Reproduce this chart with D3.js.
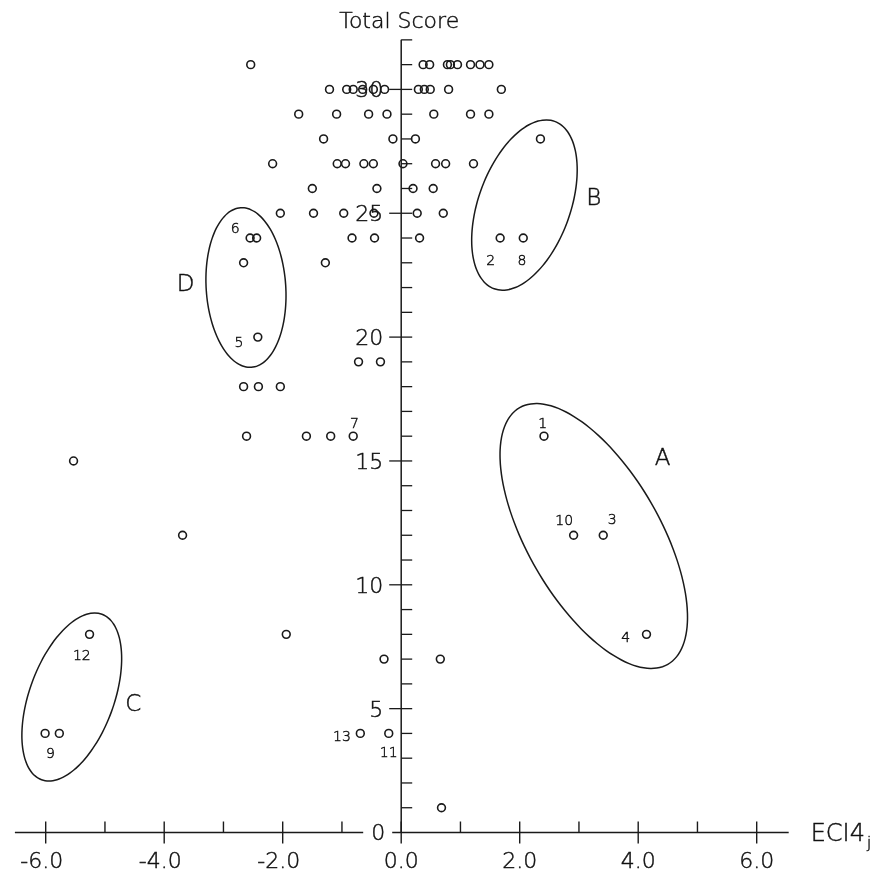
<!DOCTYPE html>
<html>
<head>
<meta charset="utf-8">
<script src="https://cdn.jsdelivr.net/npm/d3@7"></script>
<style>
  body { margin: 0; background: #fff; }
  svg { will-change: transform; opacity: 0.999; }
  text { font-family: "DejaVu Sans", sans-serif; fill: #111; stroke: #111; stroke-width: 0.45px; }
</style>
</head>
<body>
<div id="chart"></div>
<script>
// ECI4j (x) and total score (y) for each case
var eci = [
  -2.54, 0.37, 0.48, 0.78, 0.83, 0.95, 1.17, 1.33, 1.48,
  -1.21, -0.92, -0.81, -0.65, -0.47, -0.28, 0.29, 0.39, 0.49, 0.80, 1.69,
  -1.73, -1.09, -0.55, -0.24, 0.55, 1.17, 1.48,
  -1.31, -0.14, 0.24, 2.35,
  -2.17, -1.08, -0.94, -0.63, -0.47, 0.03, 0.58, 0.75, 1.22,
  -1.50, -0.41, 0.20, 0.54,
  -2.04, -1.48, -0.97, -0.46, 0.27, 0.71,
  -2.55, -2.44, -0.83, -0.45, 0.31, 1.67, 2.06,
  -2.66, -1.28,
  -2.42,
  -0.72, -0.35,
  -2.66, -2.41, -2.04,
  -2.61, -1.60, -1.19, -0.81, 2.41,
  -5.53,
  -3.69, 2.91, 3.41,
  -5.26, -1.94, 4.14,
  -0.29, 0.66,
  -6.01, -5.77, -0.69, -0.21,
  0.68
];
var totalScore = [
  31, 31, 31, 31, 31, 31, 31, 31, 31,
  30, 30, 30, 30, 30, 30, 30, 30, 30, 30, 30,
  29, 29, 29, 29, 29, 29, 29,
  28, 28, 28, 28,
  27, 27, 27, 27, 27, 27, 27, 27, 27,
  26, 26, 26, 26,
  25, 25, 25, 25, 25, 25,
  24, 24, 24, 24, 24, 24, 24,
  23, 23,
  20,
  19, 19,
  18, 18, 18,
  16, 16, 16, 16, 16,
  15,
  12, 12, 12,
  8, 8, 8,
  7, 7,
  4, 4, 4, 4,
  1
];

// numbered cases
var caseText = ["1", "2", "3", "4", "5", "6", "7", "8", "9", "10", "11", "12", "13"];
var caseX = [2.39, 1.51, 3.56, 3.79, -2.74, -2.80, -0.79, 2.04, -5.92, 2.75, -0.21, -5.39, -1.00];
var caseY = [16.52, 23.11, 12.64, 7.90, 19.81, 24.39, 16.52, 23.11, 3.20, 12.62, 3.26, 7.17, 3.90];

// clusters: centre, half major axis, half minor axis (data units)
var clusterName = ["A", "B", "C", "D"];
var clusterCx = [3.25, 2.08, -5.56, -2.62];
var clusterCy = [11.97, 25.33, 5.47, 22.0];
var clusterMajor = [[1.25, -5.18], [0.51, 3.38], [0.51, 3.34], [-0.09, 3.22]];
var clusterMinor = [[-0.97, -1.33], [0.73, -0.63], [0.67, -0.59], [0.67, 0.11]];
var clusterLabelX = [4.41, 3.25, -4.52, -3.64];
var clusterLabelY = [15.17, 25.67, 5.22, 22.2];

// axes
var xMinor = [-5, -3, -1, 1, 3, 5];
var xMajor = [-6, -4, -2, 0, 2, 4, 6];
var xLabels = ["-6.0", "-4.0", "-2.0", "0.0", "2.0", "4.0", "6.0"];
var yTicks = [1, 2, 3, 4, 5, 6, 7, 8, 9, 10, 11, 12, 13, 14, 15, 16, 17, 18, 19, 20,
              21, 22, 23, 24, 25, 26, 27, 28, 29, 30, 31, 32];
var yMajor = [5, 10, 15, 20, 25, 30];
var yLabels = ["5", "10", "15", "20", "25", "30"];

var width = 885, height = 874;
var ink = "#1a1a1a";

var svg = d3.select("#chart").append("svg")
  .attr("width", width)
  .attr("height", height)
  .style("background", "#fff");

var x = d3.scaleLinear().domain([-6, 6]).range([45.7, 756.7]);
var y = d3.scaleLinear().domain([0, 30]).range([832.5, 89.4]);

// clusters
var t = d3.range(0, 72).map(function (i) { return i / 72 * 2 * Math.PI; });
var ellipse = d3.line().curve(d3.curveCardinalClosed);
clusterName.forEach(function (name, k) {
  var pts = t.map(function (a) {
    return [
      x(clusterCx[k] + clusterMajor[k][0] * Math.cos(a) + clusterMinor[k][0] * Math.sin(a)),
      y(clusterCy[k] + clusterMajor[k][1] * Math.cos(a) + clusterMinor[k][1] * Math.sin(a))
    ];
  });
  svg.append("path")
    .attr("d", ellipse(pts))
    .attr("fill", "none")
    .attr("stroke", ink)
    .attr("stroke-width", 1.5);
  svg.append("text")
    .attr("x", x(clusterLabelX[k]))
    .attr("y", y(clusterLabelY[k]))
    .attr("text-anchor", "middle")
    .attr("dy", "0.36em")
    .attr("font-size", 23)
    .attr("font-weight", 300)
    .text(name);
});

// x axis
svg.append("line")
  .attr("x1", x(-6.52)).attr("x2", x(6.54))
  .attr("y1", y(0)).attr("y2", y(0))
  .attr("stroke", ink).attr("stroke-width", 1.5);
svg.selectAll(".xminor").data(xMinor).enter().append("line")
  .attr("x1", function (d) { return x(d); }).attr("x2", function (d) { return x(d); })
  .attr("y1", y(0) - 11).attr("y2", y(0))
  .attr("stroke", ink).attr("stroke-width", 1.4);
svg.selectAll(".xmajor").data(xMajor).enter().append("line")
  .attr("x1", function (d) { return x(d); }).attr("x2", function (d) { return x(d); })
  .attr("y1", y(0) - 11).attr("y2", y(0) + 11)
  .attr("stroke", ink).attr("stroke-width", 1.4);
svg.selectAll(".xlab").data(xMajor).enter().append("text")
  .attr("x", function (d) { return x(d) - (d < 0 ? 4 : 0); })
  .attr("y", y(0) + 28)
  .attr("dy", "0.36em")
  .attr("text-anchor", "middle")
  .attr("font-size", 22)
  .attr("font-weight", 300)
  .text(function (d, i) { return xLabels[i]; });

// gap in the x axis for the "0" label
svg.append("rect")
  .attr("x", x(0) - 38).attr("y", y(0) - 4)
  .attr("width", 29).attr("height", 8)
  .attr("fill", "#fff");
svg.append("text")
  .attr("x", x(0) - 16).attr("y", y(0))
  .attr("dy", "0.36em")
  .attr("text-anchor", "end")
  .attr("font-size", 22)
  .attr("font-weight", 300)
  .text("0");

svg.append("text")
  .attr("x", x(6) + 54).attr("y", y(0))
  .attr("dy", "0.36em")
  .attr("font-size", 24)
  .attr("font-weight", 300)
  .text("ECI4")
  .append("tspan")
  .attr("dy", "0.45em")
  .attr("dx", 2)
  .attr("font-size", 15)
  .text("j");

// y axis
svg.append("line")
  .attr("x1", x(0)).attr("x2", x(0))
  .attr("y1", y(0)).attr("y2", y(32))
  .attr("stroke", ink).attr("stroke-width", 1.5);
svg.selectAll(".ytick").data(yTicks).enter().append("line")
  .attr("x1", x(0)).attr("x2", x(0) + 11)
  .attr("y1", function (d) { return y(d); }).attr("y2", function (d) { return y(d); })
  .attr("stroke", ink).attr("stroke-width", 1.3);
svg.selectAll(".ymajor").data(yMajor).enter().append("line")
  .attr("x1", x(0) - 12).attr("x2", x(0))
  .attr("y1", function (d) { return y(d); }).attr("y2", function (d) { return y(d); })
  .attr("stroke", ink).attr("stroke-width", 1.3);
svg.selectAll(".ylab").data(yMajor).enter().append("text")
  .attr("x", x(0) - 18)
  .attr("y", function (d) { return y(d); })
  .attr("dy", "0.36em")
  .attr("text-anchor", "end")
  .attr("font-size", 22)
  .attr("font-weight", 300)
  .text(function (d, i) { return yLabels[i]; });

svg.append("text")
  .attr("x", x(0) - 2).attr("y", 20)
  .attr("dy", "0.36em")
  .attr("text-anchor", "middle")
  .attr("font-size", 22)
  .attr("font-weight", 300)
  .text("Total Score");

// cases
svg.selectAll(".case").data(eci).enter().append("circle")
  .attr("cx", function (d) { return x(d); })
  .attr("cy", function (d, i) { return y(totalScore[i]); })
  .attr("r", 3.9)
  .attr("fill", "none")
  .attr("stroke", ink)
  .attr("stroke-width", 1.6);

svg.selectAll(".caselab").data(caseText).enter().append("text")
  .attr("x", function (d, i) { return x(caseX[i]); })
  .attr("y", function (d, i) { return y(caseY[i]); })
  .attr("dy", "0.36em")
  .attr("text-anchor", "middle")
  .attr("font-size", 14)
  .attr("font-weight", 300)
  .text(function (d) { return d; });
</script>
</body>
</html>
